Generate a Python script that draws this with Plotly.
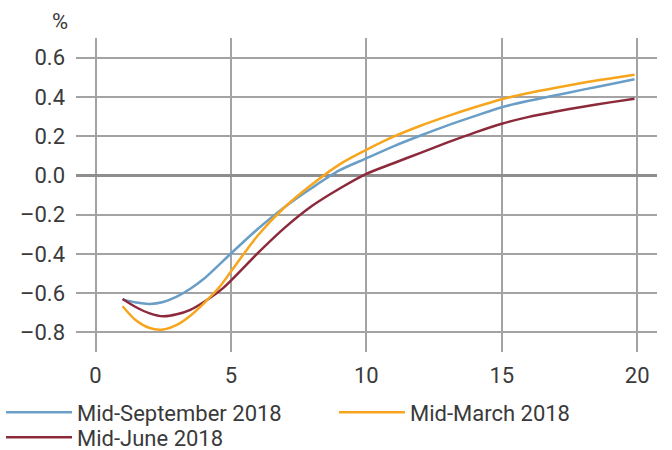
import plotly.graph_objects as go

# Maturity (years) and yield (%) curves
sep_x = [1, 1.5, 2, 2.5, 3, 3.5, 4, 5, 6, 7, 8, 9, 10, 11, 12, 13, 14, 15, 16, 17, 18, 19, 19.9]
sep_y = [-0.632, -0.648, -0.655, -0.645, -0.618, -0.578, -0.527, -0.398, -0.272, -0.160, -0.063, 0.025, 0.087, 0.148, 0.203, 0.255, 0.302, 0.347, 0.380, 0.408, 0.437, 0.464, 0.490]

mar_x = [1, 1.5, 2, 2.5, 3, 3.5, 4, 4.6, 5, 6, 7, 8, 9, 10, 11, 12, 13, 14, 15, 16, 17, 18, 19, 19.9]
mar_y = [-0.667, -0.740, -0.778, -0.785, -0.762, -0.715, -0.652, -0.565, -0.490, -0.305, -0.160, -0.045, 0.055, 0.130, 0.197, 0.253, 0.302, 0.347, 0.388, 0.420, 0.447, 0.472, 0.494, 0.513]

jun_x = [1, 1.5, 2, 2.5, 3, 3.5, 4, 4.72, 6, 7, 8, 9, 10, 11, 12, 13, 14, 15, 16, 17, 18, 19, 19.9]
jun_y = [-0.630, -0.672, -0.703, -0.718, -0.708, -0.685, -0.645, -0.573, -0.395, -0.265, -0.155, -0.068, 0.008, 0.062, 0.115, 0.168, 0.218, 0.263, 0.298, 0.325, 0.350, 0.372, 0.391]

x_ticks = [0, 5, 10, 15, 20]
y_ticks = [-0.8, -0.6, -0.4, -0.2, 0.0, 0.2, 0.4, 0.6]
y_ticktext = ["–0.8", "–0.6", "–0.4", "–0.2", "0.0", "0.2", "0.4", "0.6"]

FONT = "Roboto"
TXT = "#3a3a3a"
FS = 22

fig = go.Figure()
fig.add_trace(go.Scatter(x=sep_x, y=sep_y, name="Mid-September 2018", mode="lines",
                         line=dict(color="#6a9ec6", width=2.5, shape="spline", smoothing=0.8),
                         legend="legend"))
fig.add_trace(go.Scatter(x=jun_x, y=jun_y, name="Mid-June 2018", mode="lines",
                         line=dict(color="#8c2a3b", width=2.5, shape="spline", smoothing=0.8),
                         legend="legend3"))
fig.add_trace(go.Scatter(x=mar_x, y=mar_y, name="Mid-March 2018", mode="lines",
                         line=dict(color="#f7a51d", width=2.5, shape="spline", smoothing=0.8),
                         legend="legend2"))

leg_common = dict(orientation="v", yanchor="top", xanchor="left",
                  font=dict(family=FONT, size=FS, color=TXT), itemwidth=66,
                  tracegroupgap=0, bgcolor="rgba(0,0,0,0)")

fig.update_layout(
    width=672, height=450,
    margin=dict(l=76, r=15, t=38, b=98, autoexpand=False),
    paper_bgcolor="white", plot_bgcolor="white",
    font=dict(family=FONT, size=FS, color=TXT),
    showlegend=True,
    legend=dict(x=-0.129, y=-0.126, **leg_common),
    legend2=dict(x=0.444, y=-0.126, **leg_common),
    legend3=dict(x=-0.129, y=-0.205, **leg_common),
    xaxis=dict(range=[-0.72, 20.73], tickvals=x_ticks, showgrid=True,
               gridcolor="#a3a3a3", gridwidth=1.5, zeroline=False,
               showline=False, ticks="", ticklabelstandoff=8),
    yaxis=dict(range=[-0.9, 0.7], tickvals=y_ticks, ticktext=y_ticktext, showgrid=True,
               gridcolor="#a3a3a3", gridwidth=1.5, zeroline=True, zerolinecolor="#8e8e8e",
               zerolinewidth=2.5, showline=False, ticks="", ticklabelstandoff=10),
    annotations=[dict(text="%", xref="paper", yref="paper", x=-0.0275, y=1.051,
                      xanchor="center", yanchor="middle", showarrow=False,
                      font=dict(family=FONT, size=FS, color=TXT))],
)

fig.write_html("out.html", config={"displayModeBar": False},
               post_script="document.body.style.margin='0px';document.body.style.overflow='hidden';")
